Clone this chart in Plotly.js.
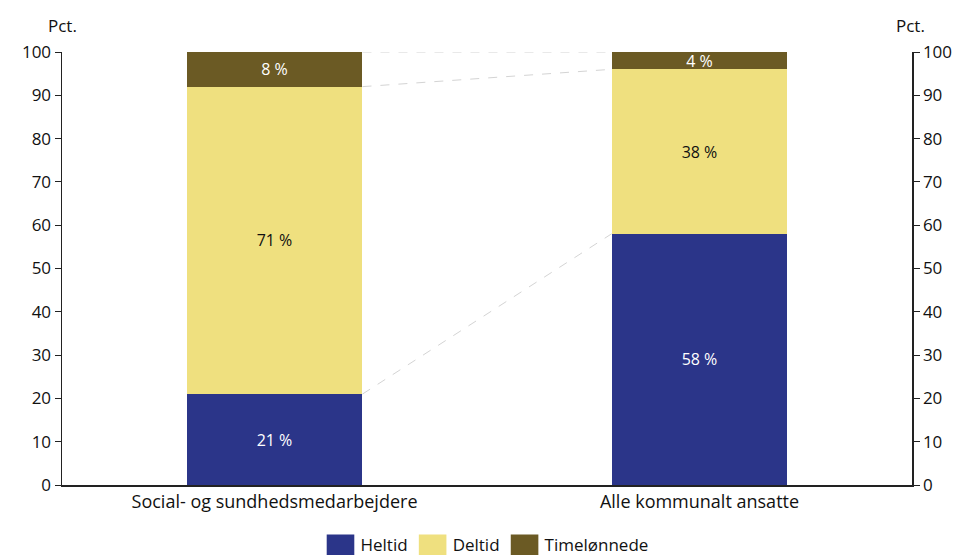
<!DOCTYPE html>
<html>
<head>
<meta charset="utf-8">
<script src="https://cdn.plot.ly/plotly-3.0.1.min.js"></script>
<style>html,body{margin:0;padding:0;background:#fff;}#chart{width:964px;height:555px;}</style>
</head>
<body>
<div id="chart"></div>
<script>
const categories = ["Social- og sundhedsmedarbejdere", "Alle kommunalt ansatte"];
const heltid = [21, 58];
const deltid = [71, 38];
const timeloennede = [8, 4];
const seriesNames = ["Heltid", "Deltid", "Timelønnede"];
const yTicks = [0, 10, 20, 30, 40, 50, 60, 70, 80, 90, 100];

const colors = ["#2B3589", "#EFE07F", "#6B5A24"];
const textColors = ["#ffffff", "#111111", "#ffffff"];
const barWidth = 0.414;
const FONT = "'Open Sans', 'Noto Sans', sans-serif";

const xs = categories.map((c, i) => i);
const series = [heltid, deltid, timeloennede];

const traces = series.map((vals, k) => ({
  type: "bar",
  name: seriesNames[k],
  x: xs,
  y: vals,
  width: barWidth,
  marker: {color: colors[k], line: {width: 0}},
  text: vals.map(v => v + " %"),
  textposition: "inside",
  insidetextanchor: "middle",
  textangle: 0,
  constraintext: "none",
  textfont: {color: textColors[k], size: 16, family: FONT},
  hoverinfo: "skip"
}));

// connector lines between stacked segment tops
const cum = [];
let running = xs.map(() => 0);
series.forEach(vals => {
  running = running.map((r, i) => r + vals[i]);
  cum.push(running.slice());
});
const connectors = cum.map(tops => ({
  type: "scatter",
  mode: "lines",
  x: [xs[0] + barWidth / 2, xs[1] - barWidth / 2],
  y: [tops[0], tops[1]],
  line: {color: "#d4d4d4", width: 1, dash: "dash"},
  showlegend: false,
  hoverinfo: "skip"
}));

const layout = {
  width: 964,
  height: 555,
  margin: {l: 62, r: 52, t: 52, b: 70, autoexpand: false},
  paper_bgcolor: "#ffffff",
  plot_bgcolor: "#ffffff",
  barmode: "stack",
  font: {family: FONT, size: 17, color: "#111111"},
  showlegend: true,
  legend: {
    orientation: "h",
    x: 0.5, xanchor: "center",
    y: -0.139, yanchor: "middle",
    font: {size: 17, family: FONT},
    traceorder: "normal",
    itemwidth: 30
  },
  xaxis: {
    range: [-0.5, 1.5],
    tickvals: xs,
    ticktext: categories,
    showline: true,
    linecolor: "#222",
    linewidth: 1.5,
    ticks: "",
    showgrid: false,
    zeroline: false,
    tickfont: {size: 18, family: FONT}
  },
  yaxis: {
    range: [0, 100],
    tickvals: yTicks,
    showline: true,
    linecolor: "#222",
    linewidth: 1.5,
    ticks: "outside",
    ticklen: 6,
    tickcolor: "#222",
    showgrid: false,
    zeroline: false,
    tickfont: {size: 17, family: FONT}
  },
  yaxis2: {
    range: [0, 100],
    overlaying: "y",
    side: "right",
    tickvals: yTicks,
    showline: true,
    linecolor: "#222",
    linewidth: 1.5,
    ticks: "outside",
    ticklen: 6,
    tickcolor: "#222",
    showgrid: false,
    zeroline: false,
    tickfont: {size: 17, family: FONT}
  },
  annotations: [
    {text: "Pct.", xref: "paper", yref: "paper", x: 0.0, y: 1.062, xanchor: "center", yanchor: "middle", showarrow: false, font: {size: 17, family: FONT}},
    {text: "Pct.", xref: "paper", yref: "paper", x: 0.998, y: 1.062, xanchor: "center", yanchor: "middle", showarrow: false, font: {size: 17, family: FONT}}
  ]
};

const y2dummy = {type: "scatter", mode: "markers", x: [xs[0]], y: [0], yaxis: "y2", marker: {opacity: 0}, showlegend: false, hoverinfo: "skip"};

Plotly.newPlot("chart", connectors.concat(traces).concat([y2dummy]), layout, {displayModeBar: false, staticPlot: true}).then(() => {
  document.querySelectorAll(".legend .legendpoints path").forEach(p => {
    const t = p.getAttribute("transform") || "";
    p.setAttribute("transform", t + " scale(2.3,1.7)");
  });
});
</script>
</body>
</html>
